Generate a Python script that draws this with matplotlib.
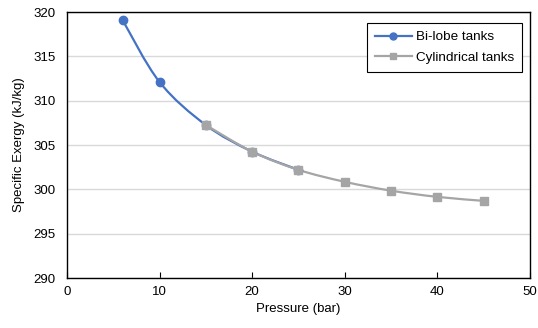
import matplotlib
matplotlib.use("Agg")
import matplotlib.pyplot as plt
import numpy as np
from matplotlib.path import Path
from matplotlib.patches import PathPatch

plt.rcParams['font.family'] = ['Liberation Sans', 'DejaVu Sans']

bilobe_p = [6, 10, 15, 20, 25]
bilobe_e = [319.1, 312.1, 307.25, 304.25, 302.2]
cyl_p = [15, 20, 25, 30, 35, 40, 45]
cyl_e = [307.25, 304.25, 302.2, 300.85, 299.85, 299.15, 298.7]

blue = '#4472C4'
gray = '#A5A5A5'


# Excel-like smoothed line: cubic bezier segments through the points
def smooth_path(x, y):
    pts = np.column_stack([x, y]).astype(float)
    n = len(pts)
    verts = [pts[0]]
    codes = [Path.MOVETO]
    for i in range(n - 1):
        p0 = pts[i - 1] if i > 0 else pts[i]
        p1 = pts[i]
        p2 = pts[i + 1]
        p3 = pts[i + 2] if i + 2 < n else pts[i + 1]
        c1 = p1 + (p2 - p0) / 6.0
        c2 = p2 - (p3 - p1) / 6.0
        verts += [c1, c2, p2]
        codes += [Path.CURVE4] * 3
    return Path(verts, codes)


fig = plt.figure(figsize=(5.38, 3.28), dpi=100)
ax = fig.add_axes([0.1245, 0.1524, 0.8605, 0.811])

ax.add_patch(PathPatch(smooth_path(bilobe_p, bilobe_e), fill=False, edgecolor=blue, lw=1.6, zorder=3))
ax.plot(bilobe_p, bilobe_e, 'o', color=blue, ms=6, zorder=4)
ax.add_patch(PathPatch(smooth_path(cyl_p, cyl_e), fill=False, edgecolor=gray, lw=1.6, zorder=3))
ax.plot(cyl_p, cyl_e, 's', color=gray, ms=6, zorder=4)

# legend handles
ax.plot([], [], '-o', color=blue, lw=1.6, ms=5, label='Bi-lobe tanks')
ax.plot([], [], '-s', color=gray, lw=1.6, ms=5, label='Cylindrical tanks')

ax.set_xlim(0, 50)
ax.set_ylim(290, 320)
ax.set_xticks(range(0, 51, 10))
ax.set_yticks(range(290, 321, 5))
ax.grid(axis='y', color='#D9D9D9', lw=1)
ax.set_axisbelow(True)
ax.tick_params(axis='x', direction='in', length=4, labelsize=9.5, pad=6)
ax.tick_params(axis='y', length=0, labelsize=9.5, pad=8)
for s in ax.spines.values():
    s.set_color('black')
    s.set_linewidth(1)

ax.set_xlabel('Pressure (bar)', fontsize=9.5, labelpad=3)
ax.set_ylabel('Specific Exergy (kJ/kg)', fontsize=9.5, labelpad=6)

leg = ax.legend(loc='upper right', bbox_to_anchor=(0.983, 0.959), fontsize=9.7,
                fancybox=False, edgecolor='black', framealpha=1, handlelength=2.7,
                borderpad=0.6, labelspacing=0.6, handletextpad=0.3, borderaxespad=0)
leg.get_frame().set_linewidth(0.8)

fig.savefig('out.png', dpi=100)
